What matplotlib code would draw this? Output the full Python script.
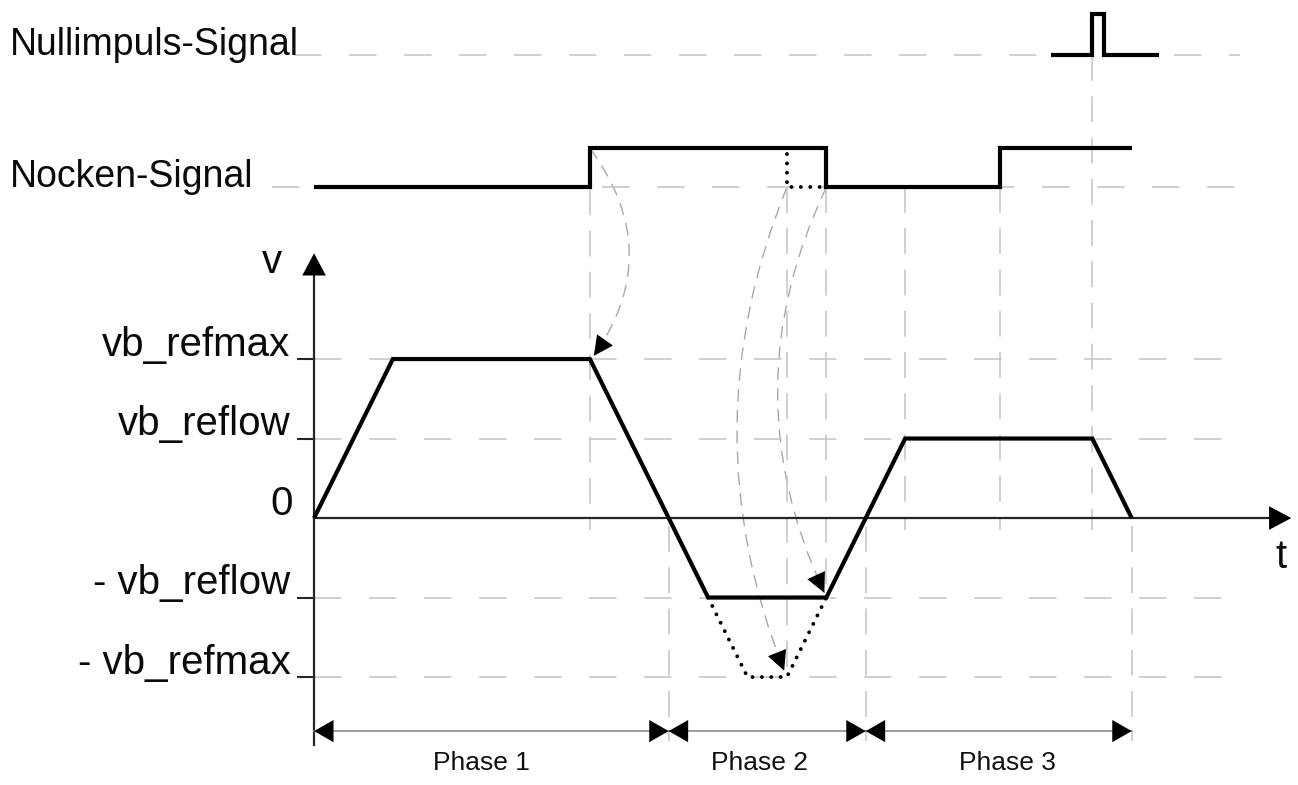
import matplotlib.pyplot as plt
from matplotlib.path import Path
from matplotlib.patches import PathPatch
import numpy as np

plt.rcParams['font.family'] = ['Liberation Sans', 'DejaVu Sans']

# velocity profile: t in time units, v in units of vb_reflow
t_vel = [0, 2, 7, 10, 13, 15, 19.75, 20.75]
v_vel = [0, 2, 2, -1, -1, 1, 1, 0]
# dotted alternative through -vb_refmax
t_alt = [10, 11, 12, 13]
v_alt = [-1, -2, -2, -1]

v_levels = [2, 1, 0, -1, -2]
v_labels = ['vb_refmax', 'vb_reflow', '0', '- vb_reflow', '- vb_refmax']

# Nocken-Signal (0 = low, 1 = high)
t_cam = [0, 7, 7, 13, 13, 17.4, 17.4, 20.75]
s_cam = [0, 0, 1, 1, 0, 0, 1, 1]
t_cam_alt = [12, 12, 13]
s_cam_alt = [0.85, 0, 0]
# Nullimpuls-Signal
t_zero = [18.7, 19.75, 19.75, 20.05, 20.05, 21.45]
s_zero = [0, 0, 1, 1, 0, 0]

signal_names = ['Nullimpuls-Signal', 'Nocken-Signal']
signal_base = [5.82, 4.16]
signal_amp = [0.52, 0.49]

phase_names = ['Phase 1', 'Phase 2', 'Phase 3']
phase_edges = [0, 9, 14, 20.75]
phase_text_t = [4.25, 11.3, 17.6]

# vertical helper lines
guide_t = [7, 9, 12, 13, 14, 15, 17.4, 19.75, 20.75]
guide_top = [4.65, -0.1, 4.16, 4.16, -0.1, 4.16, 4.16, 5.82, -0.1]
guide_bot = [-0.15, -2.8, -2.0, -1.0, -2.8, -0.15, -0.15, -0.15, -2.8]

# curved arrows from the cam edges to the velocity profile
arc_start_t = [7.0, 12.0, 13.0]
arc_start_v = [4.65, 4.16, 4.16]
arc_end_t = [7.1, 11.93, 12.95]
arc_end_v = [2.04, -1.92, -0.94]
arc_bulge_t = [8.95, 9.5, 10.55]

fig = plt.figure(figsize=(12.98, 7.85), dpi=100)
ax = fig.add_axes([0, 0, 1, 1])
ax.set_xlim(-7.97, 24.97)
ax.set_ylim(-3.358, 6.516)
ax.axis('off')

guide_col = '#c4c4c4'
dark = '#262626'
lw_g = 1.1

# horizontal dashed guides
for b, left in zip(signal_base, [-0.5, -1.07]):
    ax.plot([left, 23.5], [b, b], color=guide_col, lw=lw_g, ls=(0, (18, 18)))
for lv in v_levels:
    if lv != 0:
        ax.plot([0, 23.5], [lv, lv], color=guide_col, lw=lw_g, ls=(0, (18, 18)))
        ax.plot([-0.41, 0], [lv, lv], color=dark, lw=1.5)

# vertical dashed guides
for t, a, b in zip(guide_t, guide_top, guide_bot):
    ax.plot([t, t], [a, b], color=guide_col, lw=lw_g, ls=(0, (17, 10)))

def head(tip, tail, length=13, width=5.5, col='black'):
    ax.annotate('', xy=tip, xytext=tail,
                arrowprops=dict(arrowstyle=f'-|>,head_length={length},head_width={width}',
                                mutation_scale=1, color=col, lw=0,
                                shrinkA=0, shrinkB=0))

# curved dashed arrows (quadratic bezier, control at bulge)
for t0, v0, t1, v1, tc in zip(arc_start_t, arc_start_v, arc_end_t, arc_end_v, arc_bulge_t):
    vc = (v0 + v1) / 2
    p = Path([(t0, v0), (tc, vc), (t1, v1)], [Path.MOVETO, Path.CURVE3, Path.CURVE3])
    ax.add_patch(PathPatch(p, fill=False, ec='#a8a8a8', lw=1.0, ls=(0, (9, 6))))
    head((t1, v1), (t1 - 0.1 * (t1 - tc), v1 - 0.1 * (v1 - vc)), length=14, width=7)

# axes with arrows
ax.plot([0, 0], [-2.86, 3.1], color=dark, lw=1.6)
ax.plot([0, 24.5], [0, 0], color=dark, lw=1.6)
head((0, 3.33), (0, 2.5), length=16, width=8.5)
head((24.8, 0), (23.5, 0), length=16, width=8.5)

# signals
for (ts, ss), b, amp in zip([(t_zero, s_zero), (t_cam, s_cam)], signal_base, signal_amp):
    ax.plot(ts, [b + s * amp for s in ss], color='black', lw=3.0,
            solid_joinstyle='miter', solid_capstyle='butt')
ax.plot(t_cam_alt, [signal_base[1] + s * signal_amp[1] for s in s_cam_alt], color='black',
        lw=2.8, ls=(0, (0.01, 2.4)), dash_capstyle='round')

# velocity
ax.plot(t_vel, v_vel, color='black', lw=3.0, solid_joinstyle='miter', solid_capstyle='butt')
ax.plot(t_alt, v_alt, color='black', lw=2.8, ls=(0, (0.01, 2.4)), dash_capstyle='round')

# phases
phase_y = -2.68
for i, name in enumerate(phase_names):
    a, b = phase_edges[i], phase_edges[i + 1]
    ax.plot([a, b], [phase_y, phase_y], color='#8a8a8a', lw=1.2)
    head((a, phase_y), (a + 0.6, phase_y), length=14, width=8)
    head((b, phase_y), (b - 0.6, phase_y), length=14, width=8)
    ax.text(phase_text_t[i], -3.17, name, ha='center', va='baseline', fontsize=19, color='#111111')

# labels
for name, b in zip(signal_names, signal_base):
    ax.text(-7.72, b, name, ha='left', va='baseline', fontsize=27, color='#0a0a0a')
for lv, lab in zip(v_levels, v_labels):
    ax.text(-0.6 if lv != 0 else -0.53, lv + 0.04, lab, ha='right', va='baseline',
            fontsize=29, color='#0a0a0a')
ax.text(-1.07, 3.08, 'v', ha='center', va='baseline', fontsize=29, color='#0a0a0a')
ax.text(24.54, -0.63, 't', ha='center', va='baseline', fontsize=29, color='#0a0a0a')

fig.savefig('out.png', dpi=100, facecolor='white')
